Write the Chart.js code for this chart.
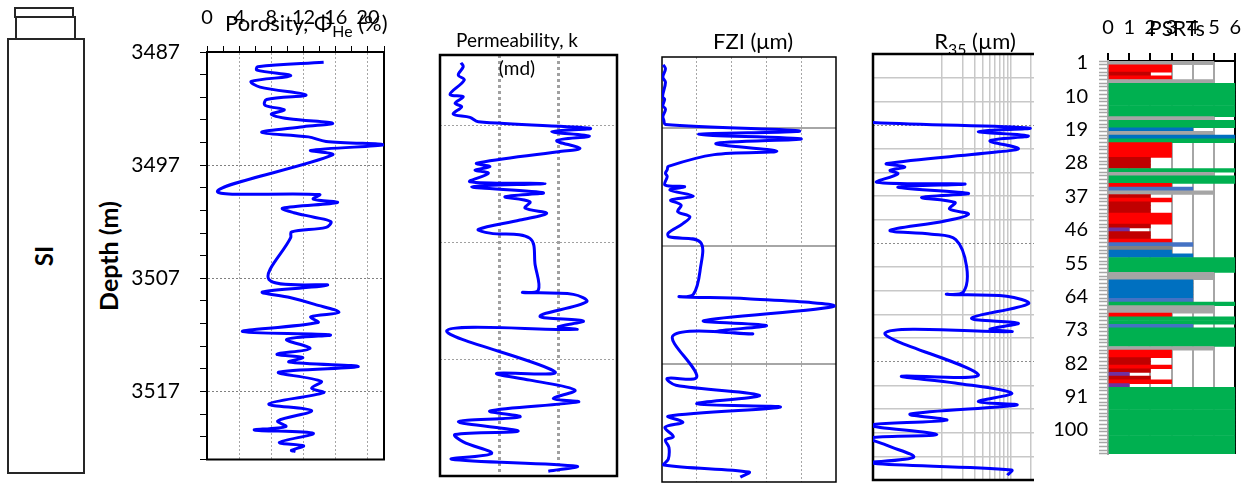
<!DOCTYPE html>
<html>
<head>
<meta charset="utf-8">
<title>Core logs</title>
<script src="https://cdn.jsdelivr.net/npm/chart.js@4.4.1/dist/chart.umd.min.js"></script>
<style>
  html, body { margin: 0; padding: 0; background: #fff; }
  #stage { position: relative; width: 1254px; height: 483px; overflow: hidden; font-family: Lato, "Liberation Sans", sans-serif; color: #000; }
  #stage canvas { position: absolute; }
  .box { position: absolute; box-sizing: border-box; border: 2px solid #262626; }
  .txt { position: absolute; white-space: nowrap; line-height: 1; }
  .mid { transform: translateX(-50%); }
  .rot { transform: translate(-50%, -50%) rotate(-90deg); font-weight: bold; }
  sub { font-size: 0.72em; vertical-align: -0.35em; line-height: 0; }
</style>
</head>
<body>
<div id="stage">
  <div class="box" style="left:14px;top:7px;width:60px;height:11px;"></div>
  <div class="box" style="left:15px;top:16px;width:61px;height:24px;"></div>
  <div class="box" style="left:7px;top:38px;width:78px;height:436px;"></div>
  <div class="txt rot" style="left:44px;top:256px;font-size:24px;">SI</div>
  <div class="txt rot" style="left:108px;top:256px;font-size:25px;">Depth (m)</div>

  <canvas id="phiChart" width="300" height="492" style="left:100px;top:0px;"></canvas>
  <canvas id="permChart" width="185" height="429" style="left:436px;top:51px;"></canvas>
  <canvas id="fziChart" width="182" height="430" style="left:658px;top:53px;"></canvas>
  <canvas id="r35Chart" width="169" height="434" style="left:869px;top:50px;"></canvas>
  <canvas id="psrtChart" width="220" height="483" style="left:1034px;top:0px;background:#fff;"></canvas>

  <div class="txt" style="left:225px;top:12px;font-size:22px;">Porosity, Φ<sub>He</sub> (%)</div>
  <div class="txt mid" style="left:517px;top:30px;font-size:19px;">Permeability, k</div>
  <div class="txt mid" style="left:517px;top:58px;font-size:19px;">(md)</div>
  <div class="txt mid" style="left:753px;top:30px;font-size:22px;">FZI (μm)</div>
  <div class="txt mid" style="left:975px;top:30px;font-size:22px;">R<sub>35</sub> (µm)</div>
  <div class="txt mid" style="left:1177px;top:17px;font-size:21px;">PSRTs</div>
</div>

<script>
// porosity log (depth m, porosity %)
var phiDepth = [3487.9, 3488.3, 3488.6, 3489.1, 3489.6, 3490.1, 3490.8, 3491.2, 3491.7, 3492.1, 3492.5, 3492.9, 3493.3, 3493.6, 3494.1, 3494.5, 3494.9, 3495.2, 3495.7, 3496.1,
  3499.3, 3499.6, 3500.0, 3500.3, 3500.8, 3501.2, 3501.6, 3502.0, 3502.5, 3502.9, 3503.4, 3507.1, 3507.6, 3508.2, 3508.7, 3509.3, 3510.0, 3510.4, 3510.9, 3511.7,
  3512.0, 3512.4, 3513.2, 3513.7, 3514.0, 3514.4, 3514.8, 3515.3, 3516.1, 3516.7, 3517.1, 3518.1, 3518.7, 3519.6, 3520.1, 3520.4, 3520.7, 3521.5, 3521.8, 3522.2, 3522.3];
var phi = [14.5, 6.3, 6.2, 10.4, 5.5, 6.6, 12.3, 7.4, 7.2, 9.6, 8.0, 10.2, 15.6, 12.0, 6.8, 12.6, 14.8, 22.0, 12.9, 15.6,
  1.3, 14.0, 13.2, 16.2, 9.4, 10.8, 13.3, 15.4, 14.8, 10.5, 10.4, 7.7, 15.0, 6.9, 10.3, 13.4, 16.4, 12.9, 13.8, 4.4,
  15.3, 9.9, 12.8, 8.7, 11.9, 10.2, 18.8, 8.9, 14.2, 13.0, 14.5, 7.7, 13.0, 8.8, 9.8, 5.9, 13.2, 9.0, 12.0, 10.5, 11.0];

// permeability / FZI / R35 share the same samples
var kDepth = [3491.66, 3492.0, 3492.71, 3493.14, 3494.36, 3494.57, 3495.13, 3495.42, 3496.05, 3496.33, 3496.71, 3497.27, 3497.56, 3497.93, 3498.33, 3498.98, 3499.27, 3500.26, 3500.55, 3500.84,
  3501.12, 3501.84, 3501.98, 3502.27, 3502.78, 3503.12, 3503.55, 3504.09, 3504.54, 3505.11, 3505.91, 3506.23, 3506.68, 3508.96, 3511.10, 3511.30, 3511.47, 3512.10, 3513.33, 3513.75,
  3514.24, 3514.46, 3514.58, 3518.09, 3518.23, 3518.80, 3519.66, 3520.37, 3520.66, 3521.43, 3521.94, 3522.37, 3523.16, 3523.45, 3524.08, 3525.07, 3525.56, 3526.16, 3526.59];
var perm = [0.0227, 0.0248, 0.0204, 0.0258, 0.0148, 0.0248, 0.018, 0.0233, 0.0168, 0.0322, 0.0446, 3.49, 0.782, 3.4, 0.951, 2.36, 1.01, 0.0419, 0.0703, 0.0392,
  0.066, 0.0322, 0.602, 0.0345, 0.563, 0.126, 0.335, 0.276, 0.643, 0.227, 0.0446, 0.0703, 0.335, 0.41, 0.464, 0.252, 1.82, 3.06, 0.495, 2.69,
  1.01, 2.07, 0.013, 0.889, 0.0914, 0.335, 1.94, 0.832, 2.21, 0.0703, 0.227, 0.0204, 0.212, 0.018, 0.0248, 0.0752, 0.0158, 2.07, 0.685];
var fzi = [0.007, 0.02, 0.005, 0.02, 0.003, 0.015, 0.005, 0.02, 0.005, 0.01, 0.02, 0.79, 0.21, 0.80, 0.31, 0.66, 0.30, 0.036, 0.03, 0.02,
  0.03, 0.017, 0.13, 0.046, 0.18, 0.05, 0.11, 0.09, 0.16, 0.12, 0.036, 0.04, 0.22, 0.22, 0.18, 0.10, 0.49, 0.99, 0.24, 0.60,
  0.31, 0.52, 0.065, 0.20, 0.03, 0.08, 0.56, 0.20, 0.68, 0.036, 0.12, 0.017, 0.065, 0.02, 0.04, 0.036, 0.01, 0.50, 0.45];
var r35 = [0.004, 0.005, 0.004, 0.005, 0.003, 0.005, 0.004, 0.005, 0.003, 0.005, 0.006, 1.93, 0.341, 1.82, 0.505, 1.30, 0.667, 0.0158, 0.029, 0.0177,
  0.023, 0.0113, 0.218, 0.023, 0.245, 0.051, 0.156, 0.13, 0.245, 0.112, 0.0177, 0.071, 0.16, 0.23, 0.207, 0.118, 0.88, 1.82, 0.272, 1.30,
  0.505, 1.04, 0.015, 0.341, 0.026, 0.156, 1.04, 0.341, 1.23, 0.035, 0.118, 0.009, 0.085, 0.009, 0.016, 0.039, 0.009, 1.04, 0.9];

// PSRT bars per sample
var psrtSample = ['1','2','3','4','5','6','7','8','9','10','11','12','13','14','15','16','17','18','19','20','21','22','23','24','25','26','27','28','29','30',
  '31','32','33','34','35','36','37','38','39','40','41','42','43','44','45','46','47','48','49','50','51','52','53','54','55','56','57','58','59','60',
  '61','62','63','64','65','66','67','68','69','70','71','72','73','74','75','76','77','78','79','80','81','82','83','84','85','86','87','88','89','90',
  '91','92','93','94','95','96','97','98','99','100','101','102','103','104','105','106'];
var psrtValue = [5, 3, 3, 2, 3, 5, 6, 6, 6, 6, 6, 6, 6, 6, 6, 5, 6, 6, 4, 5, 6, 6, 3, 3, 3, 3, 2, 2, 2, 6,
  5, 6, 6, 3, 4, 5, 2, 3, 2, 2, 2, 3, 3, 3, 2, 1, 2, 2, 3, 4, 3, 3, 4, 6, 6, 6, 6, 5, 5, 4,
  4, 4, 4, 4, 4, 6, 5, 5, 3, 6, 6, 4, 6, 6, 6, 6, 6, 5, 3, 3, 2, 2, 3, 2, 1, 2, 3, 1, 6, 6,
  6, 6, 6, 6, 6, 6, 6, 6, 6, 6, 6, 6, 6, 6, 6, 6];
var psrtType = ['P5','P3','P3','P2','P3','P5','P6','P6','P6','P6','P6','P6','P6','P6','P6','P5','P6','P6','P4','P5','P4','P6','P3','P3','P3','P3','P2','P2','P2','P6',
  'P5','P6','P6','P3','P4a','P5','P2','P3','P2','P2','P2','P3','P3','P3','P2','P1','P2','P2','P3','P4a','P5a','P4','P4','P6','P6','P6','P6','P5','P5','P4',
  'P4','P4','P4','P4','P4a','P6','P5','P5','P3','P6','P6','P4a','P6','P6','P6','P6','P6','P5','P3','P3','P2','P2','P3','P2','P1','P2','P3','P1','P6','P6',
  'P6','P6','P6','P6','P6','P6','P6','P6','P6','P6','P6','P6','P6','P6','P6','P6'];

// axis ticks / grid positions
var depthTicks = [3487, 3489, 3491, 3493, 3495, 3497, 3499, 3501, 3503, 3505, 3507, 3509, 3511, 3513, 3515, 3517, 3519, 3521, 3523];
var depthLabels = [3487, 3497, 3507, 3517];
var kDepthGrid = [3497, 3507, 3517];
var r35MinorDepth = [3493, 3495, 3499, 3501, 3503, 3505, 3509, 3511, 3513, 3515, 3519, 3521, 3523, 3525];
var permGrid = [0.1, 1];
var fziGrid = [0.2, 0.4, 0.6, 0.8];
var r35Grid = [0.1, 0.2, 0.3, 0.4, 0.5, 0.6, 0.7, 0.8, 0.9, 1, 2];

var psrtColors = { P1: '#7030A0', P2: '#C00000', P3: '#FF0000', P4: '#0070C0', P4a: '#4472C4', P5: '#A5A5A5', P5a: '#7F7F7F', P6: '#00B050' };

Chart.defaults.font.family = "Lato, 'Liberation Sans', sans-serif";
Chart.defaults.color = '#000';

// draws the box around the plot area
Chart.register({
  id: 'frame',
  beforeDatasetsDraw: function (chart, args, opts) {
    if (!opts || !opts.sides) return;
    var a = chart.chartArea, ctx = chart.ctx;
    ctx.save();
    ctx.strokeStyle = opts.color || '#000';
    ctx.lineWidth = opts.width || 2;
    ctx.lineCap = 'square';
    ctx.beginPath();
    if (opts.sides.indexOf('t') > -1) { ctx.moveTo(a.left, a.top); ctx.lineTo(a.right, a.top); }
    if (opts.sides.indexOf('r') > -1) { ctx.moveTo(a.right, a.top); ctx.lineTo(a.right, a.bottom); }
    if (opts.sides.indexOf('b') > -1) { ctx.moveTo(a.left, a.bottom); ctx.lineTo(a.right, a.bottom); }
    if (opts.sides.indexOf('l') > -1) { ctx.moveTo(a.left, a.top); ctx.lineTo(a.left, a.bottom); }
    ctx.stroke();
    ctx.restore();
  }
});

function fixedTicks(list) {
  return function (s) { s.ticks = list.map(function (v) { return { value: v }; }); };
}

function curve(values, depths) {
  return {
    data: depths.map(function (d, i) { return { x: values[i], y: d }; }),
    showLine: true, borderColor: '#0000FF', borderWidth: 3, pointRadius: 0, tension: 0.35
  };
}

function hiddenAxis(extra) {
  var base = {
    ticks: { display: false },
    grid: { drawTicks: false },
    border: { display: false }
  };
  for (var k in extra) {
    if (typeof extra[k] === 'object' && base[k] && !Array.isArray(extra[k])) {
      base[k] = Object.assign({}, base[k], extra[k]);
    } else {
      base[k] = extra[k];
    }
  }
  return base;
}

var common = { responsive: false, devicePixelRatio: 1, animation: false };
var noPlug = { legend: { display: false }, tooltip: { enabled: false } };

// Porosity + depth axis (tick padding adds to the label room, so padding is sized to match)
new Chart(document.getElementById('phiChart'), {
  type: 'scatter',
  data: { datasets: [curve(phi, phiDepth)] },
  options: Object.assign({}, common, {
    layout: { padding: { top: 0, left: 0, right: 16, bottom: 32 } },
    plugins: Object.assign({}, noPlug, { frame: { sides: 'trbl', color: '#000', width: 2 } }),
    scales: {
      x: {
        type: 'linear', position: 'top', min: 0, max: 22,
        ticks: { stepSize: 2, autoSkip: false, maxRotation: 0, padding: 16, font: { size: 20 },
          callback: function (v) { return v % 4 === 0 ? v : ''; } },
        grid: { color: function (c) { return c.tick && c.tick.value % 4 === 0 && c.tick.value > 0 ? '#A6A6A6' : 'rgba(0,0,0,0)'; },
          tickColor: '#000', tickLength: 6, lineWidth: 1 },
        border: { color: '#000', width: 2, dash: [2, 2] },
        afterFit: function (s) { s.height = 52; }
      },
      y: {
        type: 'linear', reverse: true, min: 3487, max: 3523,
        afterBuildTicks: fixedTicks(depthTicks),
        ticks: { autoSkip: false, padding: 20, font: { size: 21 },
          callback: function (v) { return depthLabels.indexOf(v) > -1 ? v : ''; } },
        grid: { color: function (c) { return c.tick && depthLabels.indexOf(c.tick.value) > 0 ? '#808080' : 'rgba(0,0,0,0)'; },
          tickColor: '#000', tickLength: 7 },
        border: { color: '#000', width: 2, dash: [2, 2] },
        afterFit: function (s) { s.width = 107; }
      }
    }
  })
});

// Permeability (log)
new Chart(document.getElementById('permChart'), {
  type: 'scatter',
  data: { datasets: [curve(perm, kDepth)] },
  options: Object.assign({}, common, {
    layout: { padding: 4 },
    plugins: Object.assign({}, noPlug, { frame: { sides: 'trbl', color: '#000', width: 2.5 } }),
    scales: {
      x: hiddenAxis({ type: 'logarithmic', position: 'top', min: 0.01, max: 10, afterBuildTicks: fixedTicks(permGrid),
        grid: { color: '#A0A0A0', lineWidth: 3 }, border: { display: false, dash: [3, 3] },
        afterFit: function (s) { s.height = 0; } }),
      y: hiddenAxis({ type: 'linear', reverse: true, min: 3491, max: 3527, afterBuildTicks: fixedTicks(kDepthGrid),
        grid: { color: '#A0A0A0', lineWidth: 1 }, border: { display: false, dash: [2, 2] },
        afterFit: function (s) { s.width = 0; } })
    }
  })
});

// FZI
new Chart(document.getElementById('fziChart'), {
  type: 'scatter',
  data: { datasets: [curve(fzi, kDepth)] },
  options: Object.assign({}, common, {
    layout: { padding: { top: 4, left: 4, right: 4, bottom: 1 } },
    plugins: Object.assign({}, noPlug, { frame: { sides: 'trbl', color: '#000', width: 1.5 } }),
    scales: {
      x: hiddenAxis({ type: 'linear', position: 'top', min: 0, max: 1, afterBuildTicks: fixedTicks(fziGrid),
        grid: { color: '#A6A6A6', lineWidth: 1 }, border: { display: false, dash: [2, 2] },
        afterFit: function (s) { s.height = 0; } }),
      y: hiddenAxis({ type: 'linear', reverse: true, min: 3491, max: 3527, afterBuildTicks: fixedTicks(kDepthGrid),
        grid: { color: '#A6A6A6', lineWidth: 2 },
        afterFit: function (s) { s.width = 0; } })
    }
  })
});

// R35 (log)
new Chart(document.getElementById('r35Chart'), {
  type: 'scatter',
  data: { datasets: [curve(r35, kDepth)] },
  options: Object.assign({}, common, {
    layout: { padding: 4 },
    plugins: Object.assign({}, noPlug, { frame: { sides: 'tbl', color: '#000', width: 2.5 } }),
    scales: {
      x: hiddenAxis({ type: 'logarithmic', position: 'top', min: 0.01, max: 2.2, afterBuildTicks: fixedTicks(r35Grid),
        grid: { color: '#C8C8C8', lineWidth: 1.5 },
        afterFit: function (s) { s.height = 0; } }),
      y: hiddenAxis({ type: 'linear', reverse: true, min: 3491, max: 3527, afterBuildTicks: fixedTicks(r35MinorDepth),
        grid: { color: '#C8C8C8', lineWidth: 1.5 },
        afterFit: function (s) { s.width = 0; } }),
      y2: hiddenAxis({ type: 'linear', position: 'left', reverse: true, min: 3491, max: 3527, afterBuildTicks: fixedTicks(kDepthGrid),
        grid: { color: '#8C8C8C', lineWidth: 1 }, border: { display: false, dash: [2, 2] },
        afterFit: function (s) { s.width = 0; } })
    }
  })
});

// PSRTs bars
new Chart(document.getElementById('psrtChart'), {
  type: 'bar',
  data: {
    labels: psrtSample,
    datasets: [{
      data: psrtValue,
      backgroundColor: psrtType.map(function (t) { return psrtColors[t]; }),
      borderWidth: 0, barPercentage: 1, categoryPercentage: 1
    }]
  },
  options: Object.assign({}, common, {
    indexAxis: 'y',
    layout: { padding: { top: 0, left: 0, right: 18.7, bottom: 29 } },
    plugins: noPlug,
    scales: {
      x: {
        type: 'linear', position: 'top', min: 0, max: 6,
        ticks: { stepSize: 1, padding: 13, maxRotation: 0, font: { size: 20 } },
        grid: { color: function (c) { var v = c.tick && c.tick.value; return v === 6 ? '#000' : (v === 0 ? 'rgba(0,0,0,0)' : '#A6A6A6'); },
          lineWidth: 2, tickColor: '#000', tickLength: 8 },
        border: { color: '#000', width: 2 },
        afterFit: function (s) { s.height = 61; }
      },
      y: {
        type: 'category',
        ticks: { autoSkip: false, padding: 11, font: { size: 20 },
          callback: function (v, i) { return i % 9 === 0 ? this.getLabelForValue(v) : ''; } },
        grid: { drawOnChartArea: false, tickColor: '#A6A6A6', tickLength: 9, tickWidth: 1.5 },
        border: { color: '#A6A6A6', width: 2 },
        afterFit: function (s) { s.width = 74; }
      }
    }
  })
});
</script>
</body>
</html>
